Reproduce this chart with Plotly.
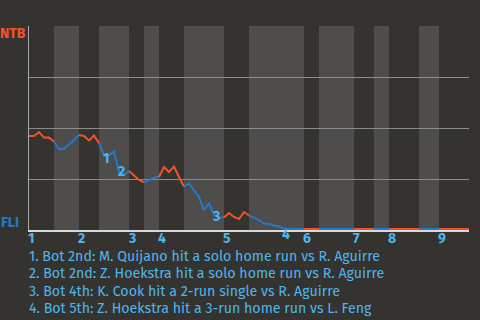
import plotly.graph_objects as go

# Win probability for NTB (1 = NTB, 0 = FLI) after each plate appearance
win_prob = [
    0.461, 0.461, 0.480, 0.453, 0.453, 0.434,            # top 1st
    0.397, 0.397, 0.417, 0.441, 0.466,                   # bot 1st
    0.461, 0.439, 0.463, 0.426,                          # top 2nd
    0.365, 0.365, 0.385, 0.284, 0.270, 0.289,            # bot 2nd
    0.265, 0.245, 0.233,                                 # top 3rd
    0.245, 0.257, 0.260,                                 # bot 3rd
    0.309, 0.284, 0.311, 0.260, 0.213,                   # top 4th
    0.228, 0.196, 0.162, 0.098, 0.132, 0.074, 0.061, 0.061,  # bot 4th
    0.083, 0.064, 0.054, 0.088, 0.071,                   # top 5th
    0.061, 0.049, 0.032, 0.029, 0.022, 0.017, 0.007, 0.005, 0.005, 0.005, 0.005,  # bot 5th
    0.005, 0.005, 0.005,                                 # top 6th
    0.005, 0.005, 0.005, 0.005, 0.005, 0.005, 0.005,     # bot 6th
    0.005, 0.005, 0.005, 0.005,                          # top 7th
    0.005, 0.005, 0.005,                                 # bot 7th
    0.005, 0.005, 0.005, 0.005, 0.005, 0.005,            # top 8th
    0.005, 0.005, 0.005, 0.005,                          # bot 8th
    0.005, 0.005, 0.005, 0.005, 0.005, 0.005,            # top 9th
]
# plate appearances per half inning
half_inning_pa = [5, 5, 4, 6, 3, 3, 5, 8, 5, 11, 3, 7, 4, 3, 6, 4, 6]
inning_labels = ["1", "2", "3", "4", "5", "6", "7", "8", "9"]

event_pa = [15, 18, 37, 51]
event_tags = ["1", "2", "3", "4"]
event_texts = [
    "1. Bot 2nd: M. Quijano hit a solo home run vs R. Aguirre",
    "2. Bot 2nd: Z. Hoekstra hit a solo home run vs R. Aguirre",
    "3. Bot 4th: K. Cook hit a 2-run single vs R. Aguirre",
    "4. Bot 5th: Z. Hoekstra hit a 3-run home run vs L. Feng",
]
away_team, home_team = "NTB", "FLI"

ORANGE = "#f2522a"
BLUE = "#2479c8"
LIGHT = "#4fb6ea"
BG = "#353330"
BAND = "#4e4d4b"
FONT = "Fira Sans, Roboto, Open Sans, sans-serif"

bounds = [0]
for n in half_inning_pa:
    bounds.append(bounds[-1] + n)
total = bounds[-1]

fig = go.Figure()
shapes = []
for i in range(len(half_inning_pa)):
    a, b = bounds[i], bounds[i + 1]
    top = (i % 2 == 0)
    if not top:
        shapes.append(dict(type="rect", xref="x", yref="paper", x0=a, x1=b, y0=0, y1=1,
                           fillcolor=BAND, line=dict(width=0), layer="below"))
    xs = list(range(a, b + 1))
    ys = win_prob[a:b + 1]
    fig.add_trace(go.Scatter(x=xs, y=ys, mode="lines",
                             line=dict(color=ORANGE if top else BLUE, width=2),
                             hoverinfo="skip", showlegend=False))

annotations = []
# inning labels at start of each inning
for j, lab in enumerate(inning_labels):
    annotations.append(dict(x=bounds[2 * j], y=0, xref="x", yref="paper", text=lab,
                            showarrow=False, xanchor="left", yanchor="top", xshift=-3, yshift=2,
                            font=dict(family=FONT, size=14, color=LIGHT, weight="bold")))
# event tags
tag_shift = [-3, 1, -2, -6]
for k, t, ys in zip(event_pa, event_tags, tag_shift):
    annotations.append(dict(x=k, y=win_prob[k], xref="x", yref="y", text=t, showarrow=False,
                            xanchor="center", yanchor="middle", xshift=2, yshift=ys,
                            font=dict(family=FONT, size=14, color=LIGHT, weight="bold")))
# event descriptions
for i, txt in enumerate(event_texts):
    annotations.append(dict(x=0, y=-(26 + 17.5 * i) / 204, xref="paper", yref="paper",
                            text=txt, showarrow=False, xanchor="left", yanchor="middle",
                            xshift=-2,
                            font=dict(family=FONT, size=14.2, color=LIGHT)))
# team labels
annotations.append(dict(x=0, y=1, xref="paper", yref="paper", text=away_team, showarrow=False,
                        xanchor="right", yanchor="middle", xshift=-1, yshift=-7,
                        font=dict(family=FONT, size=14, color=ORANGE, weight="bold")))
annotations.append(dict(x=0, y=0, xref="paper", yref="paper", text=home_team, showarrow=False,
                        xanchor="right", yanchor="middle", xshift=-8, yshift=8,
                        font=dict(family=FONT, size=14, color=BLUE, weight="bold")))

fig.update_layout(
    width=480, height=320,
    margin=dict(l=29, r=11, t=26, b=90),
    paper_bgcolor=BG, plot_bgcolor=BG,
    shapes=shapes, annotations=annotations,
    xaxis=dict(range=[0, total], showgrid=False, zeroline=False, showticklabels=False,
               showline=True, linecolor="#d9d9d9", linewidth=2, ticks=""),
    yaxis=dict(range=[0, 1.0], tickvals=[0.25, 0.5, 0.75, 1.0], showticklabels=False,
               gridcolor="#8c8c8c", gridwidth=1, zeroline=False,
               showline=True, linecolor="#aaaaaa", linewidth=1, ticks=""),
)
fig.write_html("out.html")
